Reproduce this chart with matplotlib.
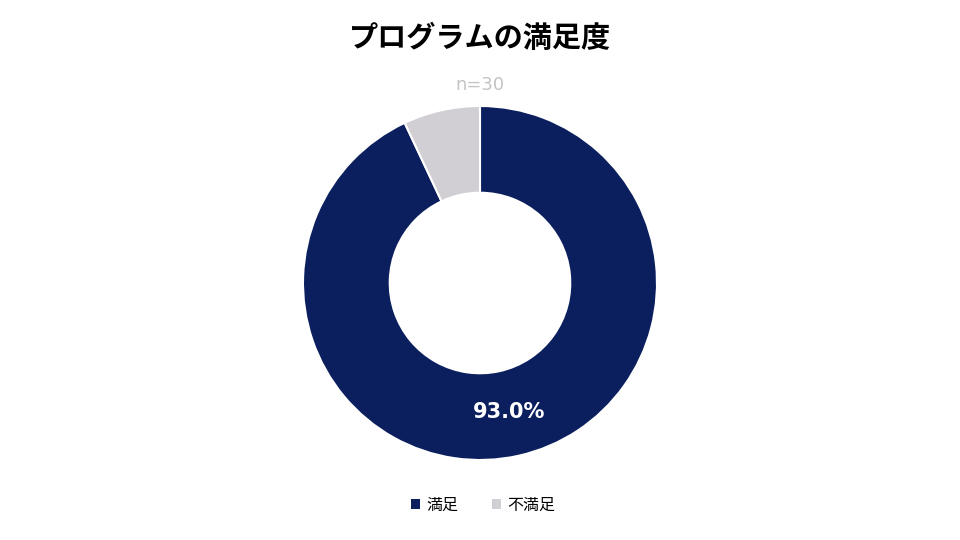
import matplotlib
matplotlib.use("Agg")
import numpy as np
import matplotlib.pyplot as plt
from matplotlib.patches import Patch

plt.rcParams['font.family'] = ['Noto Sans CJK JP', 'DejaVu Sans']

labels = ['満足', '不満足']
values = [93.0, 7.0]
colors = ['#0B1F5E', '#D1CFD4']
title = 'プログラムの満足度'
subtitle = 'n=30'

fig = plt.figure(figsize=(9.6, 5.4), dpi=100)
fig.patch.set_facecolor('white')

# 円グラフ (中心 480,283 / 半径 177px)
ax = fig.add_axes([(480 - 177) / 960, (540 - 283 - 177) / 540, 354 / 960, 354 / 540])
wedges, texts = ax.pie(
        values, colors=colors, startangle=90, counterclock=False,
        radius=1.0,
        wedgeprops=dict(width=0.49, edgecolor='white', linewidth=1.5),
        )
ax.set_xlim(-1, 1)
ax.set_ylim(-1, 1)
ax.set_aspect('equal')
ax.axis('off')

# ラベル (93.0% のみ)
theta = np.deg2rad(90 - values[0] / sum(values) * 360 / 2)
r = 0.745
ax.text(r * np.cos(theta), r * np.sin(theta), f'{values[0]:.1f}%',
        ha='center', va='center', color='white', fontsize=15,
        fontweight='bold', family=['DejaVu Sans'])

fig.text(0.5, 1 - 38 / 540, title, ha='center', va='center',
         fontsize=21, fontweight='bold')
fig.text(0.5, 1 - 85 / 540, subtitle, ha='center', va='center',
         fontsize=13, color='#C4C4C4', family=['DejaVu Sans'])

handles = [Patch(facecolor=c, edgecolor='none') for c in colors]
fig.legend(handles, labels, loc='center', bbox_to_anchor=(483 / 960, 1 - 505 / 540),
           ncol=2, frameon=False, fontsize=11.5, handlelength=0.55,
           handleheight=0.55, handletextpad=0.4, columnspacing=2.1)

fig.savefig('out.png', dpi=100)
